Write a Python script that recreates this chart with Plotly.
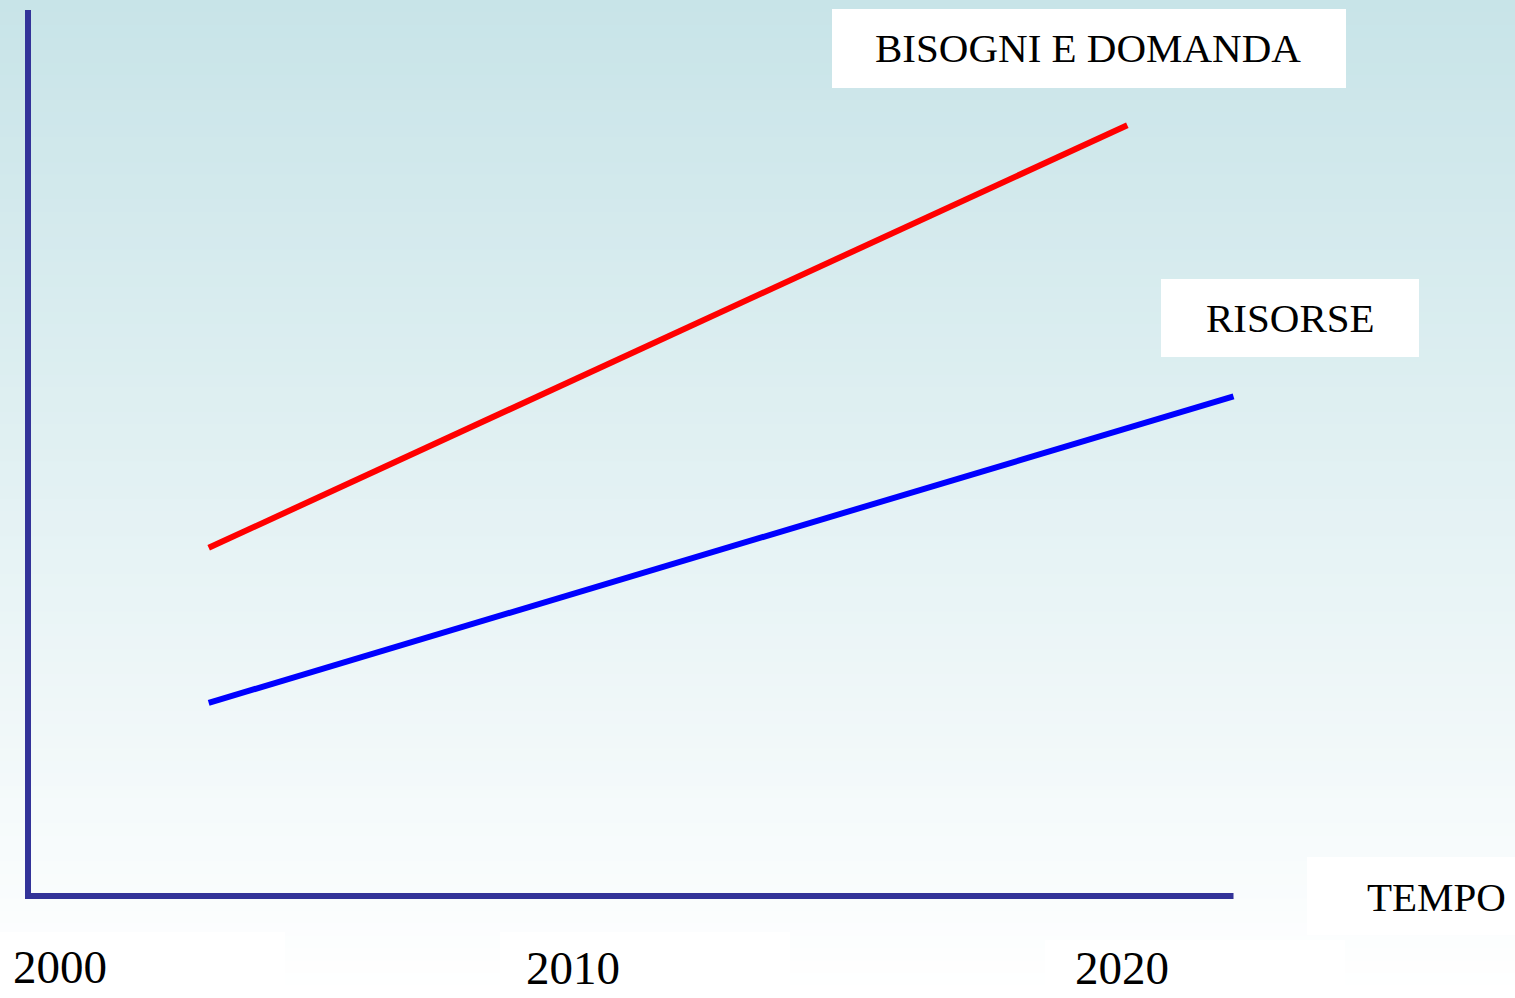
import plotly.graph_objects as go

# ---- data ----
years_demand = [2002.8, 2020.1]
demand = [39.3, 87.0]
years_resources = [2002.8, 2022.1]
resources = [21.8, 56.4]
tick_years = [2000, 2010, 2020]
tick_labels = ["2000", "2010", "2020"]
series_labels = ["BISOGNI E DOMANDA", "RISORSE"]
axis_title = "TEMPO"

W, H = 1515, 998
X0_PX, PX_PER_YEAR = 60.0, 53.1
Y0_PX, PX_PER_UNIT = 896.0, 8.86

xr = [2000 - X0_PX / PX_PER_YEAR, 2000 + (W - X0_PX) / PX_PER_YEAR]
yr = [-(H - Y0_PX) / PX_PER_UNIT, Y0_PX / PX_PER_UNIT]

def px(x):
    return x / W

def py(y):
    return 1 - y / H

AXIS_C = "#333399"
FONT = "Liberation Serif, Times New Roman, serif"

shapes = []
# background gradient
top = (200, 228, 232)
bot = (255, 255, 255)
N = 80
for i in range(N):
    t = i / (N - 1)
    c = tuple(round(top[k] + (bot[k] - top[k]) * t) for k in range(3))
    shapes.append(dict(type="rect", xref="paper", yref="paper",
                       x0=0, x1=1, y0=1 - (i + 1) / N - 0.002, y1=1 - i / N,
                       fillcolor="rgb(%d,%d,%d)" % c, line_width=0, layer="below"))

# white label boxes
def box(x0, x1, y0, y1):
    shapes.append(dict(type="rect", xref="paper", yref="paper",
                       x0=px(x0), x1=px(x1), y0=py(y1), y1=py(y0),
                       fillcolor="white", line_width=0, layer="below"))

box(832, 1346, 9, 88)
box(1161, 1419, 279, 357)
box(1307, 1515, 857, 935)
box(0, 285, 932, 998)
box(500, 790, 932, 998)
box(1045, 1345, 940, 998)

fig = go.Figure()

# axes
x_axis_start = 2000 - (X0_PX - 28) / PX_PER_YEAR
fig.add_trace(go.Scatter(x=[x_axis_start, x_axis_start, years_resources[-1]],
                         y=[yr[1] - 1.13, 0, 0], mode="lines",
                         line=dict(color=AXIS_C, width=6), hoverinfo="skip",
                         showlegend=False))

fig.add_trace(go.Scatter(x=years_demand, y=demand, mode="lines",
                         line=dict(color="#FF0000", width=6),
                         name=series_labels[0], showlegend=False))
fig.add_trace(go.Scatter(x=years_resources, y=resources, mode="lines",
                         line=dict(color="#0000FF", width=6),
                         name=series_labels[1], showlegend=False))

def label(xp, yp, text, size, xref="paper", xv=None, xshift=0):
    return dict(x=px(xp) if xv is None else xv, y=py(yp), xref=xref, yref="paper",
                text=text, showarrow=False, xanchor="center", yanchor="middle",
                xshift=xshift,
                font=dict(family=FONT, size=size, color="black"))

annotations = [
    label(1088, 48, series_labels[0], 41),
    label(1290, 318, series_labels[1], 41),
    label(1436, 897, axis_title, 41),
]
shifts = [0, -18, 0]
ypix = [967, 968, 968]
for yv, lab, s, yp in zip(tick_years, tick_labels, shifts, ypix):
    annotations.append(label(0, yp, lab, 47, xref="x", xv=yv, xshift=s))

fig.update_layout(
    width=W, height=H,
    margin=dict(l=0, r=0, t=0, b=0),
    paper_bgcolor="white", plot_bgcolor="rgba(0,0,0,0)",
    xaxis=dict(range=xr, visible=False, fixedrange=True),
    yaxis=dict(range=yr, visible=False, fixedrange=True),
    shapes=shapes, annotations=annotations,
    showlegend=False,
)

fig.write_html("out.html", config={"displayModeBar": False},
               post_script="document.body.style.margin='0px';")
